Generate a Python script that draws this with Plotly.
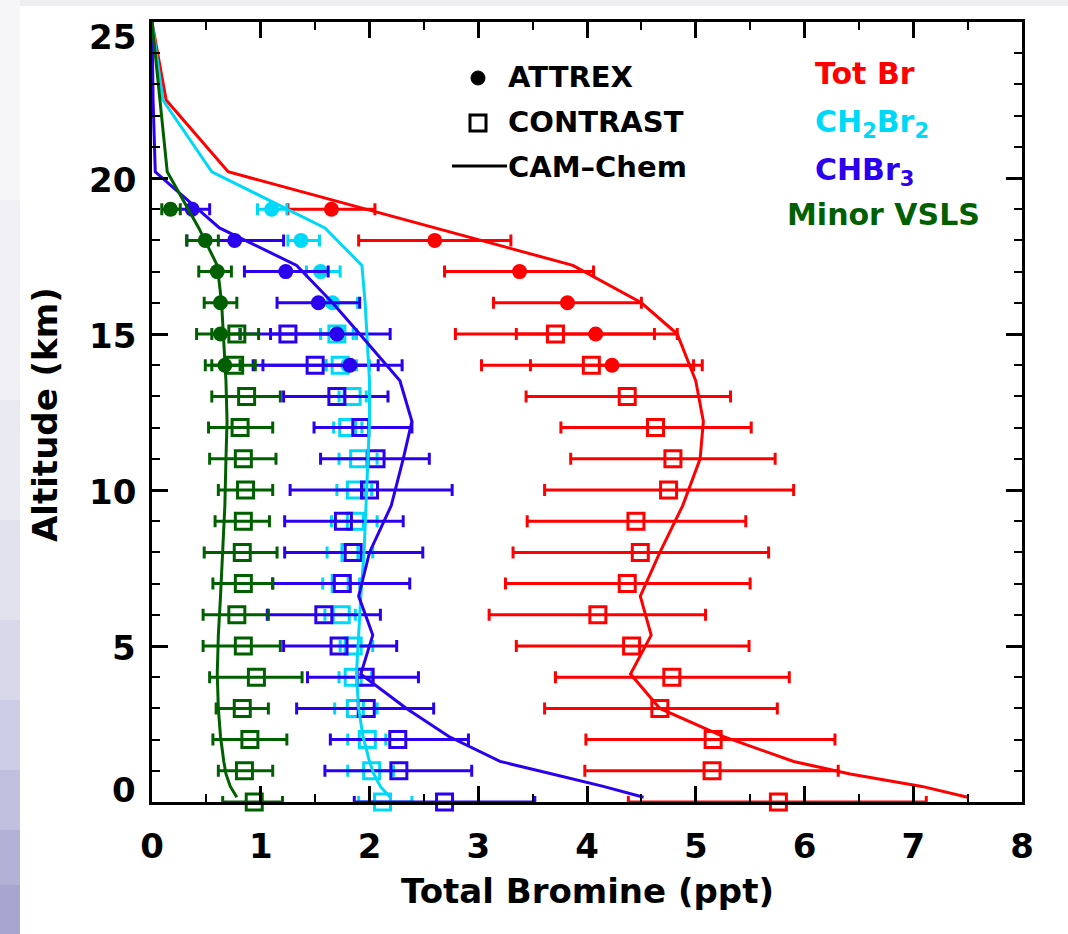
import plotly.graph_objects as go

# ---------------- data ----------------
alt_contrast = list(range(0, 16))
alt_attrex = [14, 15, 16, 17, 18, 19]

# Total Br
totbr_contrast = [5.76, 5.15, 5.16, 4.67, 4.78, 4.41, 4.10, 4.37, 4.49, 4.45, 4.75, 4.79, 4.63, 4.37, 4.04, 3.71]
totbr_contrast_lo = [4.38, 3.98, 3.99, 3.61, 3.71, 3.35, 3.10, 3.25, 3.32, 3.45, 3.61, 3.85, 3.76, 3.44, 3.03, 2.79]
totbr_contrast_hi = [7.12, 6.31, 6.28, 5.75, 5.86, 5.49, 5.09, 5.50, 5.67, 5.46, 5.90, 5.73, 5.51, 5.32, 5.06, 4.62]
totbr_attrex = [4.23, 4.08, 3.82, 3.38, 2.60, 1.65]
totbr_attrex_lo = [3.48, 3.35, 3.14, 2.69, 1.90, 1.25]
totbr_attrex_hi = [4.98, 4.83, 4.50, 4.06, 3.30, 2.05]

# CH2Br2
ch2br2_contrast = [2.12, 2.02, 1.98, 1.87, 1.85, 1.85, 1.74, 1.73, 1.82, 1.87, 1.87, 1.90, 1.80, 1.84, 1.73, 1.70]
ch2br2_contrast_lo = [1.90, 1.80, 1.80, 1.68, 1.72, 1.73, 1.59, 1.57, 1.61, 1.65, 1.70, 1.72, 1.67, 1.72, 1.60, 1.55]
ch2br2_contrast_hi = [2.39, 2.22, 2.15, 2.07, 2.02, 2.03, 1.87, 1.91, 2.03, 2.07, 2.02, 2.07, 1.93, 1.97, 1.88, 1.85]
ch2br2_attrex = [1.80, 1.72, 1.66, 1.55, 1.37, 1.10]
ch2br2_attrex_lo = [1.60, 1.55, 1.56, 1.42, 1.25, 0.97]
ch2br2_attrex_hi = [2.00, 1.88, 1.89, 1.73, 1.54, 1.24]

# CHBr3
chbr3_contrast = [2.69, 2.27, 2.26, 1.97, 1.96, 1.72, 1.58, 1.75, 1.85, 1.76, 2.00, 2.06, 1.92, 1.70, 1.50, 1.25]
chbr3_contrast_lo = [1.86, 1.59, 1.64, 1.33, 1.43, 1.21, 1.06, 1.11, 1.22, 1.22, 1.27, 1.55, 1.49, 1.21, 0.93, 0.81]
chbr3_contrast_hi = [3.52, 2.94, 2.91, 2.59, 2.45, 2.25, 2.10, 2.37, 2.49, 2.31, 2.76, 2.55, 2.39, 2.17, 2.08, 1.69]
chbr3_attrex = [1.82, 1.70, 1.53, 1.23, 0.76, 0.37]
chbr3_attrex_lo = [1.02, 1.09, 1.15, 0.85, 0.32, 0.20]
chbr3_attrex_hi = [2.30, 2.19, 1.91, 1.62, 1.21, 0.53]

# Minor VSLS
minor_contrast = [0.94, 0.85, 0.90, 0.83, 0.96, 0.84, 0.78, 0.84, 0.83, 0.84, 0.86, 0.84, 0.81, 0.87, 0.76, 0.78]
minor_contrast_lo = [0.65, 0.61, 0.56, 0.59, 0.53, 0.47, 0.47, 0.56, 0.48, 0.58, 0.61, 0.53, 0.52, 0.55, 0.55, 0.55]
minor_contrast_hi = [1.20, 1.11, 1.24, 1.07, 1.38, 1.18, 1.07, 1.11, 1.15, 1.08, 1.11, 1.14, 1.11, 1.18, 0.95, 0.98]
minor_attrex = [0.67, 0.63, 0.63, 0.60, 0.49, 0.17]
minor_attrex_lo = [0.49, 0.41, 0.48, 0.43, 0.32, 0.09]
minor_attrex_hi = [0.81, 0.81, 0.78, 0.73, 0.61, 0.26]

# CAM-Chem model profiles
model_alt = [0.15, 0.5, 0.9, 1.3, 2.1, 3.0, 4.1, 5.35, 6.6, 8.0, 9.5, 11.0, 12.2, 13.5, 15.0, 16.0, 17.2, 18.4, 20.2, 22.5, 25.0]
model_totbr = [7.50, 7.08, 6.42, 5.90, 5.25, 4.67, 4.40, 4.59, 4.49, 4.67, 4.88, 5.04, 5.07, 5.00, 4.83, 4.50, 3.87, 2.60, 0.70, 0.13, 0.0]
model_ch2br2 = [2.19, 2.10, 2.04, 2.00, 1.94, 1.90, 1.88, 1.90, 1.92, 1.95, 1.97, 1.99, 2.00, 2.00, 1.98, 1.96, 1.93, 1.59, 0.55, 0.10, 0.0]
model_chbr3 = [4.52, 4.15, 3.68, 3.20, 2.73, 2.34, 1.92, 2.03, 1.90, 2.00, 2.20, 2.31, 2.39, 2.28, 1.91, 1.66, 1.33, 0.62, 0.03, 0.01, 0.0]
model_minor = [0.78, 0.72, 0.68, 0.66, 0.63, 0.61, 0.60, 0.61, 0.63, 0.65, 0.67, 0.68, 0.69, 0.68, 0.66, 0.64, 0.60, 0.43, 0.14, 0.07, 0.0]

x_ticks = [0, 1, 2, 3, 4, 5, 6, 7, 8]
y_ticks = [0, 5, 10, 15, 20, 25]

RED = "#FF0000"
CYAN = "#00D8F8"
BLUE = "#2A00EE"
GREEN = "#006000"
FONT = "DejaVu Sans"

species = [
    ("Tot Br", RED, totbr_contrast, totbr_contrast_lo, totbr_contrast_hi,
     totbr_attrex, totbr_attrex_lo, totbr_attrex_hi, model_totbr),
    ("CH2Br2", CYAN, ch2br2_contrast, ch2br2_contrast_lo, ch2br2_contrast_hi,
     ch2br2_attrex, ch2br2_attrex_lo, ch2br2_attrex_hi, model_ch2br2),
    ("CHBr3", BLUE, chbr3_contrast, chbr3_contrast_lo, chbr3_contrast_hi,
     chbr3_attrex, chbr3_attrex_lo, chbr3_attrex_hi, model_chbr3),
    ("Minor VSLS", GREEN, minor_contrast, minor_contrast_lo, minor_contrast_hi,
     minor_attrex, minor_attrex_lo, minor_attrex_hi, model_minor),
]

fig = go.Figure()


def err(vals, lo, hi):
    plus = [h - v for v, h in zip(vals, hi)]
    minus = [v - l for v, l in zip(vals, lo)]
    return plus, minus


for name, col, cv, clo, chi, av, alo, ahi, mv in species:
    p, m = err(cv, clo, chi)
    fig.add_trace(go.Scatter(
        x=cv, y=alt_contrast, mode="markers", name=name + " CONTRAST",
        marker=dict(symbol="square-open", size=16, color=col, line=dict(width=3, color=col)),
        error_x=dict(type="data", symmetric=False, array=p, arrayminus=m,
                     color=col, thickness=3, width=6),
        cliponaxis=False, showlegend=False))
    p, m = err(av, alo, ahi)
    fig.add_trace(go.Scatter(
        x=av, y=alt_attrex, mode="markers", name=name + " ATTREX",
        marker=dict(symbol="circle", size=15, color=col),
        error_x=dict(type="data", symmetric=False, array=p, arrayminus=m,
                     color=col, thickness=3, width=6),
        cliponaxis=False, showlegend=False))

for name, col, cv, clo, chi, av, alo, ahi, mv in species:
    fig.add_trace(go.Scatter(
        x=mv, y=model_alt, mode="lines", name=name + " CAM-Chem",
        line=dict(color=col, width=3), showlegend=False))

# pixel -> paper helpers (plot area 152..1022 x, 22..802 y)
def px(xp):
    return (xp - 152) / 870.0


def py(yp):
    return (802 - yp) / 780.0


shapes = []
# page background details
shapes.append(dict(type="rect", xref="paper", yref="paper", x0=px(0), x1=px(1068), y0=py(6), y1=py(0),
                   fillcolor="#EEEEF1", line=dict(width=0), layer="below"))
lav = [(0, "#F6F6F8"), (200, "#F1F1F5"), (400, "#EAEAF2"), (520, "#E2E2EE"), (620, "#D8D8EA"),
       (700, "#CDCDE5"), (770, "#C0C0DE"), (830, "#B2B2D7"), (885, "#A6A6D0")]
for i, (y0, c) in enumerate(lav):
    y1 = lav[i + 1][0] if i + 1 < len(lav) else 934
    shapes.append(dict(type="rect", xref="paper", yref="paper", x0=px(0), x1=px(20),
                       y0=py(y1), y1=py(y0), fillcolor=c, line=dict(width=0), layer="below"))

# legend glyphs
shapes.append(dict(type="circle", xref="paper", yref="paper", x0=px(471), x1=px(485), y0=py(85), y1=py(71),
                   fillcolor="black", line=dict(color="black", width=1)))
shapes.append(dict(type="rect", xref="paper", yref="paper", x0=px(470), x1=px(486), y0=py(131), y1=py(115),
                   fillcolor="rgba(0,0,0,0)", line=dict(color="black", width=3)))
shapes.append(dict(type="line", xref="paper", yref="paper", x0=px(452), x1=px(507), y0=py(166), y1=py(166),
                   line=dict(color="black", width=3)))

ann = []


def txt(s, xp, yp, color="black", size=29, xanchor="left"):
    ann.append(dict(text=s, x=px(xp), y=py(yp), xref="paper", yref="paper", showarrow=False,
                    xanchor=xanchor, yanchor="middle",
                    font=dict(family=FONT, size=size, color=color, weight="bold")))


txt("ATTREX", 506, 77)
txt("CONTRAST", 506, 122)
txt("CAM\u2013Chem", 506, 167)
txt("Tot Br", 813, 74, RED, 30)
txt("CH<sub>2</sub>Br<sub>2</sub>", 813, 124, CYAN, 30)
txt("CHBr<sub>3</sub>", 813, 171, BLUE, 30)
txt("Minor VSLS", 785, 214, GREEN, 30)

txt("Total Bromine (ppt)", 587, 891, size=34, xanchor="center")
ann.append(dict(text="Altitude (km)", x=px(45), y=py(415), xref="paper", yref="paper", showarrow=False,
                textangle=-90, xanchor="center", yanchor="middle",
                font=dict(family=FONT, size=34, color="black", weight="bold")))

# y tick labels (IDL style: end labels kept inside the axis span)
for v in y_ticks:
    shift = -2
    if v == y_ticks[-1]:
        shift = -15
    elif v == y_ticks[0]:
        shift = 12
    ann.append(dict(text=str(v), x=0, y=v, xref="paper", yref="y", showarrow=False,
                    xanchor="right", yanchor="middle", xshift=-14, yshift=shift,
                    font=dict(family=FONT, size=34, color="black", weight="bold")))

fig.update_layout(
    width=1068, height=934,
    margin=dict(l=152, r=46, t=22, b=132),
    paper_bgcolor="white", plot_bgcolor="white",
    shapes=shapes, annotations=ann, showlegend=False,
    xaxis=dict(range=[0, 8], tickvals=x_ticks, ticktext=[str(v) for v in x_ticks],
               ticks="inside", ticklen=16, tickwidth=3, tickcolor="black",
               showline=True, linewidth=3, linecolor="black", mirror="ticks",
               showgrid=False, zeroline=False, ticklabelstandoff=12,
               tickfont=dict(family=FONT, size=34, color="black", weight="bold"),
               minor=dict(dtick=0.5, tick0=0, ticks="inside", ticklen=8, tickwidth=2, tickcolor="black",
                          showgrid=False)),
    yaxis=dict(range=[0, 25], tickvals=y_ticks, showticklabels=False,
               ticks="inside", ticklen=16, tickwidth=3, tickcolor="black",
               showline=True, linewidth=3, linecolor="black", mirror="ticks",
               showgrid=False, zeroline=False,
               minor=dict(dtick=1, tick0=0, ticks="inside", ticklen=8, tickwidth=2, tickcolor="black",
                          showgrid=False)),
)

post = ("document.body.style.margin='0';document.body.style.overflow='hidden';"
        "var gd=document.getElementById('{plot_id}');gd.style.position='absolute';"
        "gd.style.left='0px';gd.style.top='0px';")
fig.write_html("out.html", config={"displayModeBar": False}, post_script=post)
